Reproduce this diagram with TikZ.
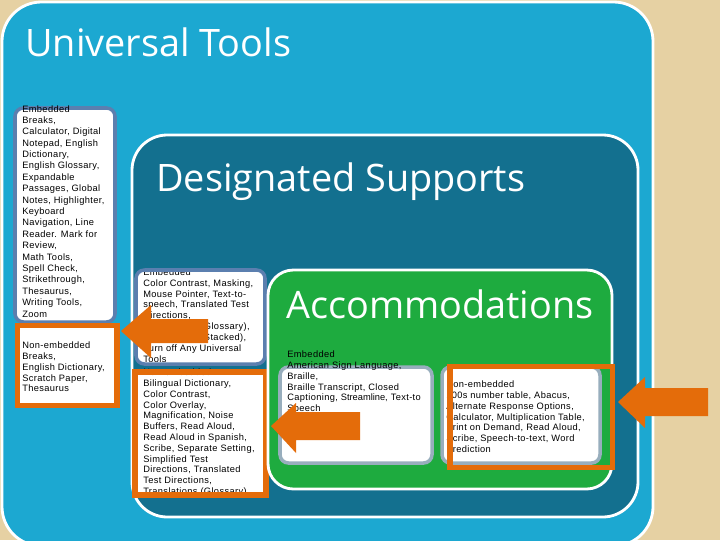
\documentclass[tikz,border=0pt]{standalone}
\usepackage{fontspec}
\setmainfont{Liberation Sans}
\newfontfamily\listfont[LetterSpace=4]{Liberation Sans}
\newfontfamily\titlefont{Open Sans}

\definecolor{paper}{HTML}{E6D1A3}
\definecolor{toolblue}{HTML}{1CA8D1}
\definecolor{supportteal}{HTML}{13708F}
\definecolor{accgreen}{HTML}{1EAB3F}
\definecolor{steel}{HTML}{5B7FAF}
\definecolor{paleblue}{HTML}{98AEBD}
\definecolor{arroworange}{HTML}{E46C0A}

\tikzset{
  frame/.style={draw=white, line width=2pt},
  listbox/.style={draw=steel, line width=2.5pt, rounded corners=6pt},
  accbox/.style={draw=paleblue, line width=2.5pt, rounded corners=6pt},
  orangeframe/.style={draw=arroworange, line width=3.9pt},
  listtext/.style={anchor=north west, inner sep=0pt, align=left,
    font=\listfont\fontsize{6.6}{7.7}\selectfont},
  titletext/.style={anchor=base west, inner sep=0pt, text=white,
    font=\titlefont\fontsize{26.9}{30}\selectfont},
  blockarrow/.style={fill=arroworange}
}

\begin{document}
\begin{tikzpicture}[x=0.025cm,y=-0.025cm]
\useasboundingbox (0,0) rectangle (720,540);

% Hintergrund
\fill[paper] (0,0) rectangle (720,540);

% Universal Tools
\draw[frame, fill=toolblue, rounded corners=28pt] (2,2) rectangle (653,546);
\node[titletext] (uttitle) at (25,56) {Universal Tools};

\draw[listbox, fill=white] (15,108) rectangle (115,322);
\node[listtext, font=\listfont\fontsize{6.6}{8.1}\selectfont] (utemb) at (22,105)
{Embedded\\ Breaks,\\ Calculator, Digital\\ Notepad, English\\ Dictionary,\\
English Glossary,\\ Expandable\\ Passages, Global\\ Notes, Highlighter,\\
Keyboard\\ Navigation, Line\\ Reader. Mark for\\ Review,\\ Math Tools,\\
Spell Check,\\ Strikethrough,\\ Thesaurus,\\ Writing Tools,\\ Zoom};

\fill[white, rounded corners=4pt] (17.5,325.5) rectangle (117,405.5);
\node[listtext] (utnon) at (22,341.5)
{Non-embedded\\ Breaks,\\ English Dictionary,\\ Scratch Paper,\\ Thesaurus};
\draw[orangeframe] (17.5,325.5) rectangle (117,405.5);

% Designated Supports
\draw[frame, fill=supportteal, rounded corners=25pt] (132,135) rectangle (638,517);
\node[titletext] (dstitle) at (156,191) {Designated Supports};

\fill[white, rounded corners=6pt] (136,270) rectangle (265,364);
\node[listtext] (dsemb) at (143,268.5)
{Embedded\\ Color Contrast, Masking,\\ Mouse Pointer, Text-to-\\
speech, Translated Test\\ Directions,\\ Translations (Glossary),\\
Translations (Stacked),\\ Turn off Any Universal\\ Tools};
\draw[listbox] (136,270) rectangle (265,364);

\fill[white, rounded corners=6pt] (135,372) rectangle (266,495);
\node[listtext] (dsnon) at (143,368.5)
{Non-embedded\\ Bilingual Dictionary,\\ Color Contrast,\\ Color Overlay,\\
Magnification, Noise\\ Buffers, Read Aloud,\\ Read Aloud in Spanish,\\
Scribe, Separate Setting,\\ Simplified Test\\ Directions, Translated\\
Test Directions,\\ Translations (Glossary)};
\draw[orangeframe] (135,372) rectangle (266,495);

% Accommodations
\draw[frame, fill=accgreen, rounded corners=18pt] (268,270) rectangle (612,489);
\node[titletext] (actitle) at (286,318) {Accommodations};

\draw[accbox, fill=white] (280,367) rectangle (432,463);
\node[listtext] (acemb) at (287,350.5)
{Embedded\\ American Sign Language,\\ Braille,\\ Braille Transcript, Closed\\
Captioning, {\addfontfeature{LetterSpace=0}Streamline}, Text-to\\ Speech};

\draw[accbox, fill=white] (442,367) rectangle (600,463);
\node[listtext] (acnon) at (446,380.5)
{Non-embedded\\ 100s number table, Abacus,\\ Alternate Response Options,\\
Calculator, Multiplication Table,\\ Print on Demand, Read Aloud,\\
Scribe, Speech-to-text, Word\\ Prediction};
\draw[orangeframe] (450,366.5) rectangle (612.5,467.5);

% Pfeile
\fill[blockarrow] (121,331) -- (151,305) -- (151,319) -- (208,319)
  -- (208,343) -- (151,343) -- (151,358) -- cycle;
\fill[blockarrow] (271,426) -- (296,403) -- (296,412) -- (360,412)
  -- (360,440) -- (296,440) -- (296,453) -- cycle;
\fill[blockarrow] (618,402) -- (645,377) -- (645,388) -- (708,388)
  -- (708,416) -- (645,416) -- (645,428) -- cycle;

\end{tikzpicture}
\end{document}
